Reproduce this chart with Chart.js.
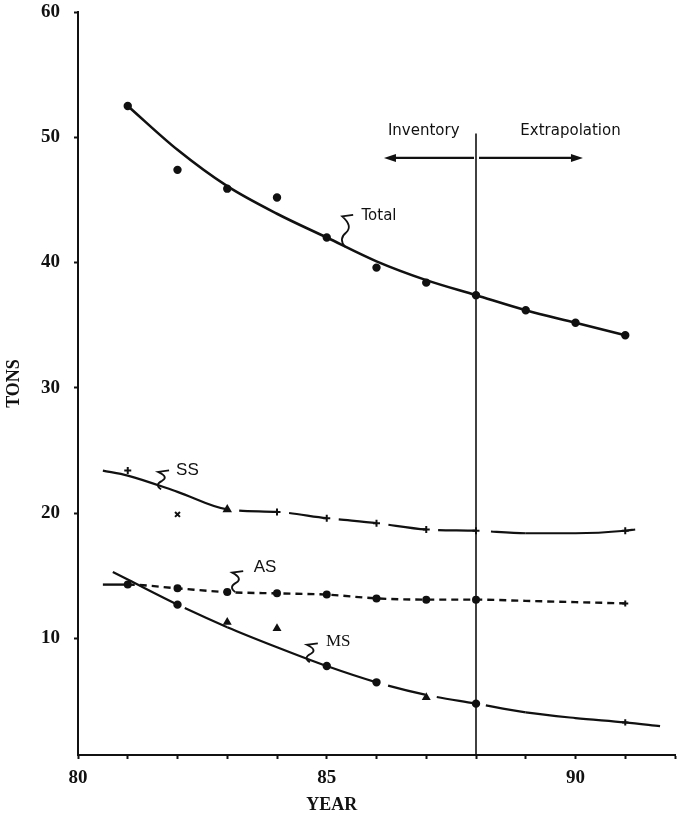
<!DOCTYPE html>
<html>
<head>
<meta charset="utf-8">
<script src="https://cdn.jsdelivr.net/npm/chart.js@4"></script>
<style>
  html, body { margin: 0; padding: 0; background: #fff; }
  #wrap { width: 684px; height: 816px; }
</style>
</head>
<body>
<div id="wrap"><canvas id="chart" width="684" height="816"></canvas></div>
<script>
// ---- axis ticks ----
const yearTicks  = [80, 81, 82, 83, 84, 85, 86, 87, 88, 89, 90, 91, 92];
const yearLabels = [80, 85, 90];
const tonTicks   = [10, 20, 30, 40, 50, 60];

// ---- Total: observed points and fitted curve ----
const totalYears      = [81, 82, 83, 84, 85, 86, 87, 88, 89, 90, 91];
const totalObserved   = [52.5, 47.4, 45.9, 45.2, 42.0, 39.6, 38.4, 37.4, 36.2, 35.2, 34.2];
const totalCurveYears = [81, 82, 83, 84, 85, 86, 87, 88, 89, 90, 91];
const totalCurve      = [52.5, 49.0, 46.1, 43.9, 42.0, 40.1, 38.6, 37.4, 36.2, 35.2, 34.2];

// ---- SS ----
const ssYears      = [81, 82, 83, 84, 85, 86, 87, 88, 91];
const ssObserved   = [23.4, 19.9, 20.3, 20.1, 19.6, 19.2, 18.7, 18.6, 18.6];
const ssCurveYears = [80.5, 81, 82, 83, 84, 85, 86, 87, 88, 89, 90, 91, 91.2];
const ssCurve      = [23.4, 23.0, 21.7, 20.3, 20.1, 19.6, 19.2, 18.7, 18.6, 18.4, 18.4, 18.6, 18.7];

// ---- AS ----
const asYears      = [81, 82, 83, 84, 85, 86, 87, 88, 91];
const asObserved   = [14.3, 14.0, 13.7, 13.6, 13.5, 13.2, 13.1, 13.1, 12.8];
const asCurveYears = [80.5, 81, 82, 83, 84, 85, 86, 87, 88, 89, 90, 91];
const asCurve      = [14.3, 14.3, 14.0, 13.7, 13.6, 13.5, 13.2, 13.1, 13.1, 13.0, 12.9, 12.8];

// ---- MS ----
const msYears      = [82, 83, 84, 85, 86, 87, 88, 91];
const msObserved   = [12.7, 11.3, 10.8, 7.8, 6.5, 5.3, 4.8, 3.3];
const msCurveYears = [80.7, 81, 82, 83, 84, 85, 86, 87, 88, 89, 90, 91, 91.7];
const msCurve      = [15.3, 14.7, 12.7, 10.9, 9.3, 7.8, 6.5, 5.5, 4.8, 4.1, 3.65, 3.3, 3.0];

// Inventory / extrapolation boundary
const boundaryYear = 88;

const INK = '#111';
const pts = (xs, ys) => xs.map((x, i) => ({ x, y: ys[i] }));

// line styles per segment
const gapThenSolid = g => [0, g, 2000, 0];
const ssSegment = {
  borderDash: c => {
    const a = c.p0.parsed.x, b = c.p1.parsed.x;
    if (a >= 83 && b <= 88) return [38, 12];
    if (a === 88) return gapThenSolid(15);
    return undefined;
  },
  borderDashOffset: c => (c.p0.parsed.x >= 83 && c.p1.parsed.x <= 88 ? 38 : 0)
};
const asSegment = {
  borderDash: c => (c.p0.parsed.x >= 81 ? [7, 5] : undefined)
};
const msSegment = {
  borderDash: c => {
    const a = c.p0.parsed.x, b = c.p1.parsed.x;
    if (a === 82) return gapThenSolid(8);
    if (a >= 86 && b <= 88) return [38, 12];
    if (a === 88) return gapThenSolid(10);
    return undefined;
  },
  borderDashOffset: c => (c.p0.parsed.x >= 86 && c.p1.parsed.x <= 88 ? 38 : 0)
};

function curveSet(xs, ys, width, segment) {
  return {
    type: 'line', data: pts(xs, ys), showLine: true,
    borderColor: INK, borderWidth: width, pointRadius: 0,
    cubicInterpolationMode: 'monotone', fill: false,
    segment: segment || {}
  };
}
function pointSet(xs, ys, style, radius) {
  return {
    type: 'scatter', data: pts(xs, ys), showLine: false,
    pointStyle: style, pointRadius: radius,
    pointBackgroundColor: INK, pointBorderColor: INK, pointBorderWidth: 2
  };
}

// Boundary line, phase arrows, series tags and the YEAR caption
const annotations = {
  id: 'annotations',
  afterDatasetsDraw(chart) {
    const { ctx, scales: { x, y }, chartArea } = chart;
    ctx.save();
    ctx.strokeStyle = INK; ctx.fillStyle = INK;

    // vertical boundary
    const bx = x.getPixelForValue(boundaryYear);
    ctx.lineWidth = 1.6;
    ctx.beginPath();
    ctx.moveTo(bx, y.getPixelForValue(50.3));
    ctx.lineTo(bx, chartArea.bottom);
    ctx.stroke();

    // phase arrows
    const ay = y.getPixelForValue(48.35);
    const lx = x.getPixelForValue(86.15), rx = x.getPixelForValue(90.15);
    ctx.lineWidth = 2.2;
    ctx.beginPath();
    ctx.moveTo(bx - 2, ay); ctx.lineTo(lx + 6, ay);
    ctx.moveTo(bx + 3, ay); ctx.lineTo(rx - 6, ay);
    ctx.stroke();
    ctx.beginPath();
    ctx.moveTo(lx, ay); ctx.lineTo(lx + 12, ay - 4); ctx.lineTo(lx + 12, ay + 4); ctx.closePath();
    ctx.moveTo(rx, ay); ctx.lineTo(rx - 12, ay - 4); ctx.lineTo(rx - 12, ay + 4); ctx.closePath();
    ctx.fill();

    ctx.textAlign = 'center'; ctx.textBaseline = 'middle';
    ctx.font = '15px "DejaVu Sans"';
    ctx.fillText('Inventory', x.getPixelForValue(86.95), y.getPixelForValue(50.5));
    ctx.fillText('Extrapolation', x.getPixelForValue(89.9), y.getPixelForValue(50.5));

    // hooked pointers from a tag to its curve
    const hook = (hx, hy, h) => {
      const top = hy - h;
      ctx.lineWidth = 1.8;
      ctx.beginPath();
      ctx.moveTo(hx + 8, top);
      ctx.lineTo(hx - 3, top + 1.5);
      ctx.quadraticCurveTo(hx + 8, top + h * 0.35, hx + 1, top + h * 0.55);
      ctx.quadraticCurveTo(hx - 7, top + h * 0.75, hx, hy);
      ctx.stroke();
    };
    const tags = [
      { text: 'Total', font: '15px "DejaVu Sans"', tx: 86.05, ty: 43.7, hx: 85.37, hy: 41.25, h: 32 },
      { text: 'SS', font: '17px "Liberation Sans"', tx: 82.2, ty: 23.45, hx: 81.67, hy: 21.9, h: 19 },
      { text: 'AS', font: '17px "Liberation Sans"', tx: 83.76, ty: 15.7, hx: 83.16, hy: 13.7, h: 21 },
      { text: 'MS', font: '17px "Liberation Serif"', tx: 85.23, ty: 9.72, hx: 84.66, hy: 8.1, h: 19 }
    ];
    tags.forEach(t => {
      hook(x.getPixelForValue(t.hx), y.getPixelForValue(t.hy), t.h);
      ctx.font = t.font;
      ctx.fillText(t.text, x.getPixelForValue(t.tx), y.getPixelForValue(t.ty));
    });

    // horizontal axis caption under 85
    ctx.font = 'bold 18px "Liberation Serif"';
    ctx.fillText('YEAR', x.getPixelForValue(85.1), chartArea.bottom + 50);
    ctx.restore();
  }
};

new Chart(document.getElementById('chart'), {
  type: 'scatter',
  data: {
    datasets: [
      curveSet(totalCurveYears, totalCurve, 2.6),
      pointSet(totalYears, totalObserved, 'circle', 3.2),
      curveSet(ssCurveYears, ssCurve, 2.2, ssSegment),
      pointSet(ssYears, ssObserved, ['cross', 'crossRot', 'triangle', 'cross', 'cross', 'cross', 'cross', 'cross', 'cross'], 3.5),
      curveSet(asCurveYears, asCurve, 2.4, asSegment),
      pointSet(asYears, asObserved, ['circle', 'circle', 'circle', 'circle', 'circle', 'circle', 'circle', 'circle', 'cross'], 3),
      curveSet(msCurveYears, msCurve, 2.2, msSegment),
      pointSet(msYears, msObserved, ['circle', 'triangle', 'triangle', 'circle', 'circle', 'triangle', 'circle', 'cross'], 3.2)
    ]
  },
  options: {
    responsive: false,
    animation: false,
    layout: { padding: { top: 12, right: 9, left: 0, bottom: 0 } },
    plugins: { legend: { display: false }, tooltip: { enabled: false } },
    scales: {
      x: {
        type: 'linear', min: 80, max: 92,
        afterBuildTicks: s => { s.ticks = yearTicks.map(v => ({ value: v })); },
        afterFit: s => { s.height = 61; s.paddingLeft = 0; s.paddingRight = 0; },
        grid: { display: true, drawOnChartArea: false, drawTicks: true, tickLength: 4, tickWidth: 2, color: INK },
        border: { display: true, color: INK, width: 2 },
        ticks: {
          autoSkip: false, maxRotation: 0, padding: 8, color: INK,
          font: { family: 'Liberation Serif', size: 19, weight: 'bold' },
          callback: v => (yearLabels.includes(v) ? String(v) : '')
        }
      },
      y: {
        type: 'linear', min: 0.7, max: 60,
        afterBuildTicks: s => { s.ticks = tonTicks.map(v => ({ value: v })); },
        afterFit: s => { s.width = 78; s.paddingTop = 0; s.paddingBottom = 0; },
        grid: { display: true, drawOnChartArea: false, drawTicks: true, tickLength: 4, tickWidth: 2, color: INK },
        border: { display: true, color: INK, width: 2 },
        ticks: {
          padding: 14, color: INK,
          font: { family: 'Liberation Serif', size: 19, weight: 'bold' }
        },
        title: {
          display: true, text: 'TONS', color: INK,
          font: { family: 'Liberation Serif', size: 18, weight: 'bold' },
          padding: { top: 4, bottom: 0 }
        }
      }
    }
  },
  plugins: [annotations]
});
</script>
</body>
</html>
